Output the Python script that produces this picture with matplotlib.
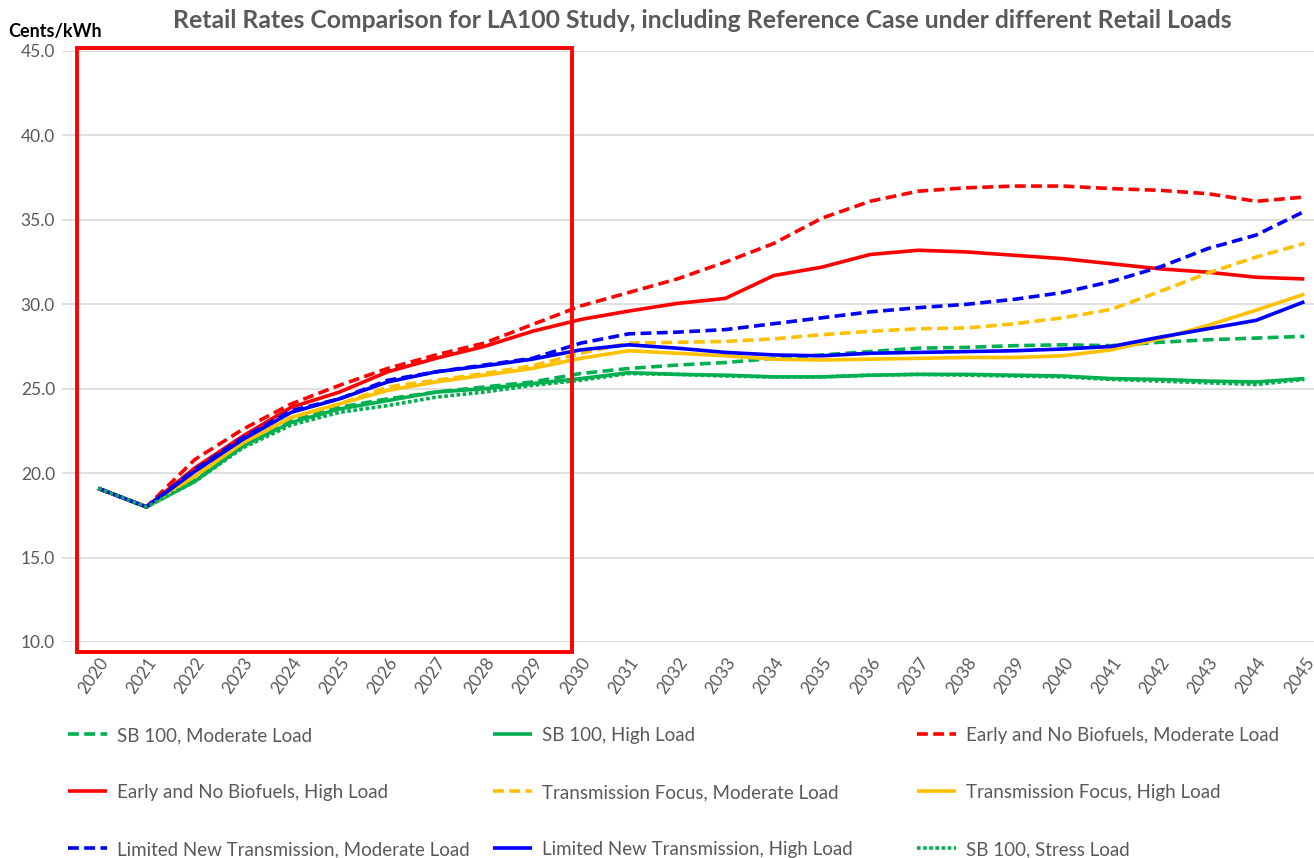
import matplotlib
matplotlib.use('Agg')
import matplotlib.pyplot as plt
from matplotlib.patches import Rectangle

years = list(range(2020, 2046))

sb_mod = [19.1, 18.0, 19.6, 21.6, 23.1, 23.9, 24.4, 24.8, 25.1, 25.4, 25.9, 26.2, 26.4, 26.55, 26.8,
          27.0, 27.2, 27.4, 27.45, 27.55, 27.6, 27.55, 27.75, 27.9, 28.0, 28.1]
sb_high = [19.1, 18.0, 19.5, 21.6, 23.0, 23.8, 24.3, 24.8, 25.0, 25.3, 25.6, 25.95, 25.85, 25.8, 25.7,
           25.7, 25.8, 25.85, 25.85, 25.8, 25.75, 25.6, 25.55, 25.45, 25.4, 25.6]
early_mod = [19.1, 18.0, 20.8, 22.6, 24.1, 25.2, 26.2, 27.0, 27.7, 28.8, 29.9, 30.7, 31.5, 32.5, 33.6,
             35.1, 36.1, 36.7, 36.9, 37.0, 37.0, 36.85, 36.75, 36.55, 36.1, 36.35]
early_high = [19.1, 18.0, 20.3, 22.2, 23.9, 24.8, 26.0, 26.8, 27.5, 28.4, 29.1, 29.6, 30.05, 30.35, 31.7,
              32.2, 32.95, 33.2, 33.1, 32.9, 32.7, 32.4, 32.1, 31.9, 31.6, 31.5]
tf_mod = [19.1, 18.0, 19.9, 21.8, 23.3, 24.1, 25.1, 25.5, 25.9, 26.35, 27.1, 27.7, 27.75, 27.8, 27.95,
          28.2, 28.4, 28.55, 28.6, 28.85, 29.2, 29.7, 30.75, 31.85, 32.8, 33.6]
tf_high = [19.1, 18.0, 19.8, 21.8, 23.3, 24.1, 24.9, 25.4, 25.8, 26.2, 26.8, 27.25, 27.1, 26.95, 26.75,
           26.7, 26.75, 26.8, 26.85, 26.85, 26.95, 27.3, 27.95, 28.75, 29.65, 30.6]
lnt_mod = [19.1, 18.0, 20.2, 22.1, 23.7, 24.4, 25.5, 26.0, 26.4, 26.8, 27.7, 28.25, 28.35, 28.5, 28.85,
           29.2, 29.55, 29.8, 30.0, 30.3, 30.7, 31.35, 32.2, 33.3, 34.1, 35.5]
lnt_high = [19.1, 18.0, 20.1, 22.0, 23.6, 24.4, 25.4, 26.0, 26.35, 26.75, 27.3, 27.6, 27.4, 27.15, 27.0,
            26.95, 27.1, 27.15, 27.2, 27.25, 27.35, 27.5, 28.05, 28.55, 29.05, 30.15]
stress = [19.1, 18.0, 19.5, 21.5, 22.85, 23.6, 24.0, 24.5, 24.8, 25.2, 25.5, 25.9, 25.85, 25.75, 25.7,
          25.7, 25.8, 25.85, 25.8, 25.75, 25.7, 25.55, 25.45, 25.35, 25.25, 25.55]

labels = ['SB 100, Moderate Load', 'SB 100, High Load', 'Early and No Biofuels, Moderate Load',
          'Early and No Biofuels, High Load', 'Transmission Focus, Moderate Load',
          'Transmission Focus, High Load', 'Limited New Transmission, Moderate Load',
          'Limited New Transmission, High Load', 'SB 100, Stress Load']

GREEN = '#00B050'
RED = '#FF0000'
YELLOW = '#FFC000'
BLUE = '#0000FF'
GREY = '#595959'

plt.rcParams['font.family'] = ['Lato', 'DejaVu Sans']

fig = plt.figure(figsize=(13.14, 8.58), dpi=100)
ax = fig.add_axes([62 / 1314, 1 - 642 / 858, 1 - 62 / 1314, (642 - 51) / 858])

dash = (3, 1.5)
lw = 2.6
series = [
    (sb_mod, GREEN, dash),
    (sb_high, GREEN, None),
    (early_mod, RED, dash),
    (early_high, RED, None),
    (tf_mod, YELLOW, dash),
    (tf_high, YELLOW, None),
    (lnt_mod, BLUE, dash),
    (lnt_high, BLUE, None),
    (stress, GREEN, (1, 0.7)),
]
handles = []
for (vals, col, ds), lab in zip(series, labels):
    if ds is None:
        ln, = ax.plot(years, vals, color=col, lw=lw, label=lab, solid_capstyle='butt')
    else:
        ln, = ax.plot(years, vals, color=col, lw=lw, label=lab, dashes=ds, dash_capstyle='butt')
    handles.append(ln)

ax.set_xlim(2019.25, 2045.2)
ax.set_ylim(10, 45)
ax.set_yticks([10, 15, 20, 25, 30, 35, 40, 45])
ax.set_yticklabels(['%.1f' % v for v in [10, 15, 20, 25, 30, 35, 40, 45]], color=GREY, fontsize=12.5)
ax.set_xticks(years)
ax.set_xticklabels([str(y) for y in years], rotation=55, ha='right', va='top',
                   rotation_mode='anchor', color=GREY, fontsize=12.5)
ax.tick_params(axis='both', length=0)
ax.tick_params(axis='y', pad=5)
ax.tick_params(axis='x', pad=9)
ax.grid(axis='y', color='#D9D9D9', lw=1.2)
ax.set_axisbelow(True)
for s in ax.spines.values():
    s.set_visible(False)

# red highlight box
box = Rectangle((2019.57, 9.4), 2029.83 - 2019.57, 45.18 - 9.4, fill=False,
                edgecolor=RED, lw=2.8, clip_on=False, zorder=5)
ax.add_patch(box)

fig.text(702 / 1314, 1 - 20 / 858, 'Retail Rates Comparison for LA100 Study, including Reference Case under different Retail Loads',
         ha='center', va='center', fontsize=17.8, fontweight='bold', color=GREY)
fig.text(8 / 1314, 1 - 31 / 858, 'Cents/kWh', ha='left', va='center', fontsize=13, fontweight='bold', color='black')

# legend, three columns placed like the original
col_x = [68, 493, 917]
for c in range(3):
    hs = [handles[c], handles[c + 3], handles[c + 6]]
    leg = fig.legend(hs, [h.get_label() for h in hs], loc='upper left',
                     bbox_to_anchor=(col_x[c] / 1314, 1 - 727 / 858),
                     frameon=False, borderpad=0, borderaxespad=0, fontsize=13.5,
                     handlelength=2.1, handletextpad=0.5, labelspacing=2.13)
    for t in leg.get_texts():
        t.set_color(GREY)

fig.savefig('out.png', dpi=100)
